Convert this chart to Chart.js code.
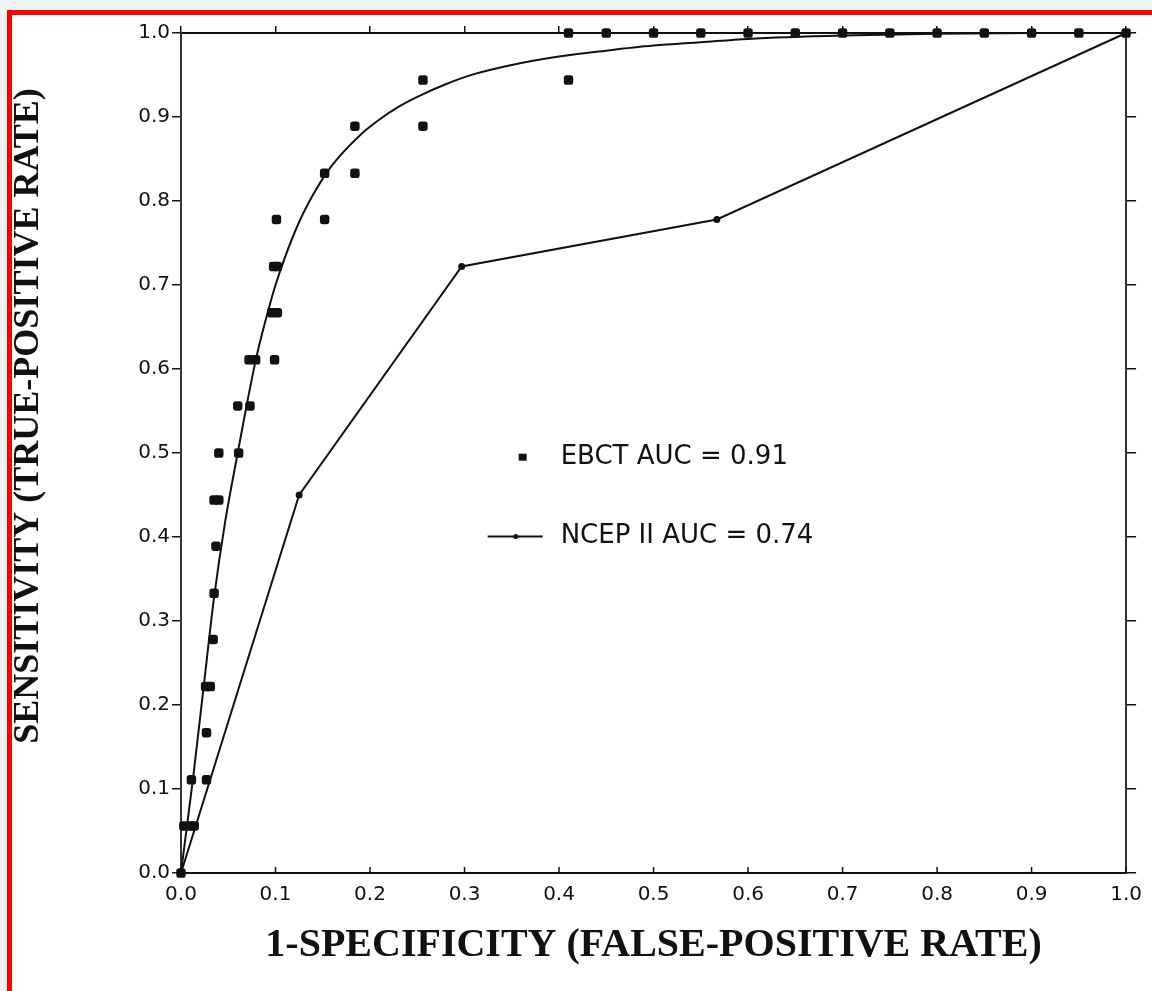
<!DOCTYPE html>
<html>
<head>
<meta charset="utf-8">
<script src="https://cdn.jsdelivr.net/npm/chart.js@4.4.1/dist/chart.umd.min.js"></script>
<style>
  html, body { margin: 0; padding: 0; background: #eef3f6; overflow: hidden; width: 1152px; height: 991px; }
  #frame { position: absolute; left: 7px; top: 10px; right: 0; bottom: 0;
           border-left: 5px solid #ff0000; border-top: 5px solid #ff0000; background: #fff; }
  #wrap { position: absolute; left: 0; top: 0; width: 1152px; height: 991px; }
</style>
</head>
<body>
<div id="frame"></div>
<div id="wrap"><canvas id="roc" width="1152" height="991"></canvas></div>
<script>
// EBCT observed points (1-specificity, sensitivity)
const ebctX = [0, 0.003, 0.010, 0.014, 0.011, 0.027, 0.027, 0.026, 0.031, 0.034, 0.035, 0.037,
               0.035, 0.040, 0.040, 0.061, 0.060, 0.073, 0.072, 0.079, 0.099, 0.096, 0.102,
               0.098, 0.102, 0.101, 0.152, 0.152, 0.184, 0.184, 0.256, 0.256, 0.410, 0.410,
               0.45, 0.50, 0.55, 0.60, 0.65, 0.70, 0.75, 0.80, 0.85, 0.90, 0.95, 1.0];
const ebctY = [0, 0.056, 0.056, 0.056, 0.111, 0.111, 0.167, 0.222, 0.222, 0.278, 0.333, 0.389,
               0.444, 0.444, 0.5, 0.5, 0.556, 0.556, 0.611, 0.611, 0.611, 0.667, 0.667,
               0.722, 0.722, 0.778, 0.778, 0.833, 0.833, 0.889, 0.889, 0.944, 0.944, 1.0,
               1.0, 1.0, 1.0, 1.0, 1.0, 1.0, 1.0, 1.0, 1.0, 1.0, 1.0, 1.0];

// fitted EBCT curve
const fitX = [0, 0.004, 0.013, 0.024, 0.035, 0.047, 0.060, 0.070, 0.080, 0.090, 0.100, 0.110,
              0.125, 0.140, 0.155, 0.170, 0.190, 0.210, 0.230, 0.250, 0.280, 0.310, 0.350,
              0.400, 0.450, 0.500, 0.550, 0.600, 0.700, 0.800, 0.900, 1.0];
const fitY = [0, 0.036, 0.115, 0.222, 0.328, 0.420, 0.500, 0.560, 0.615, 0.660, 0.700, 0.733,
              0.775, 0.808, 0.835, 0.856, 0.879, 0.897, 0.912, 0.924, 0.939, 0.951, 0.962,
              0.972, 0.979, 0.985, 0.989, 0.993, 0.997, 0.999, 1.0, 1.0];

// NCEP II
const ncepX = [0, 0.125, 0.297, 0.567, 1.0];
const ncepY = [0, 0.45, 0.722, 0.778, 1.0];

const legendLabels = ["EBCT AUC = 0.91", "NCEP II AUC = 0.74"];
const xTitle = "1-SPECIFICITY (FALSE-POSITIVE RATE)";
const yTitle = "SENSITIVITY (TRUE-POSITIVE RATE)";

const toPoints = (xs, ys) => xs.map((x, i) => ({ x: x, y: ys[i] }));
const ink = "#111";
const tickFont = { family: "DejaVu Sans", size: 20 };

// legend in the middle of the plot, rotated y title, small inward ticks on the bottom axis
const extras = {
    id: "extras",
    afterDatasetsDraw(chart) {
        const { ctx, scales: { x, y } } = chart;
        ctx.save();
        ctx.fillStyle = ink;
        ctx.strokeStyle = ink;

        ctx.lineWidth = 1.5;
        x.ticks.forEach((t) => {
            const px = x.getPixelForValue(t.value);
            ctx.beginPath();
            ctx.moveTo(px, y.bottom);
            ctx.lineTo(px, y.bottom - 6);
            ctx.stroke();
        });

        ctx.font = "26px 'DejaVu Sans'";
        ctx.textBaseline = "middle";
        ctx.textAlign = "left";

        const y1 = y.getPixelForValue(0.495);
        ctx.fillRect(x.getPixelForValue(0.3615) - 4, y1 - 3.5, 8, 7);
        ctx.fillText(legendLabels[0], x.getPixelForValue(0.4017), y1);

        const y2 = y.getPixelForValue(0.4006);
        ctx.lineWidth = 2;
        ctx.beginPath();
        ctx.moveTo(x.getPixelForValue(0.3245), y2);
        ctx.lineTo(x.getPixelForValue(0.3827), y2);
        ctx.stroke();
        ctx.beginPath();
        ctx.arc(x.getPixelForValue(0.3542), y2, 2.5, 0, Math.PI * 2);
        ctx.fill();
        ctx.fillText(legendLabels[1], x.getPixelForValue(0.4017), y2);

        ctx.font = "bold 36px 'Liberation Serif'";
        ctx.textAlign = "center";
        ctx.translate(29, 416);
        ctx.rotate(-Math.PI / 2);
        ctx.fillText(yTitle, 0, 0);
        ctx.restore();
    }
};

new Chart(document.getElementById("roc"), {
    type: "scatter",
    data: {
        datasets: [
            {
                label: "EBCT fit",
                data: toPoints(fitX, fitY),
                showLine: true,
                borderColor: ink,
                borderWidth: 2,
                pointRadius: 0,
                cubicInterpolationMode: "monotone",
                clip: false,
            },
            {
                label: "NCEP II",
                data: toPoints(ncepX, ncepY),
                showLine: true,
                borderColor: ink,
                borderWidth: 2,
                backgroundColor: ink,
                pointRadius: 2.5,
                clip: false,
            },
            {
                label: "EBCT",
                data: toPoints(ebctX, ebctY),
                pointStyle: "rectRounded",
                pointRadius: 5.5,
                backgroundColor: ink,
                borderColor: ink,
                borderWidth: 0,
                clip: false,
            },
        ],
    },
    options: {
        responsive: false,
        animation: false,
        layout: { padding: 0 },
        plugins: {
            legend: { display: false },
            tooltip: { enabled: false },
        },
        scales: {
            x: {
                type: "linear",
                position: "bottom",
                min: 0,
                max: 1,
                afterFit: (s) => { s.height = 118; },
                border: { color: ink, width: 2 },
                grid: { drawOnChartArea: false, drawTicks: false },
                ticks: {
                    stepSize: 0.1,
                    color: ink,
                    font: tickFont,
                    padding: 10,
                    maxRotation: 0,
                    callback: (v) => v.toFixed(1),
                },
                title: {
                    display: true,
                    text: xTitle,
                    color: ink,
                    font: { family: "Liberation Serif", size: 40, weight: "bold" },
                    padding: { top: 0, bottom: 21 },
                },
            },
            x2: {
                type: "linear",
                position: "top",
                min: 0,
                max: 1,
                afterFit: (s) => { s.height = 33; },
                border: { color: ink, width: 2 },
                grid: { drawOnChartArea: false, tickLength: 7, color: ink, lineWidth: 1.5 },
                ticks: { stepSize: 0.1, display: false },
            },
            y: {
                type: "linear",
                position: "left",
                min: 0,
                max: 1,
                afterFit: (s) => { s.width = 181; },
                border: { color: "#333", width: 2 },
                grid: { drawOnChartArea: false, tickLength: 9, color: ink, lineWidth: 1.5 },
                ticks: {
                    stepSize: 0.1,
                    color: ink,
                    font: tickFont,
                    padding: 2,
                    callback: (v) => v.toFixed(1),
                },
            },
            y2: {
                type: "linear",
                position: "right",
                min: 0,
                max: 1,
                afterFit: (s) => { s.width = 25; },
                border: { color: "#333", width: 2 },
                grid: { drawOnChartArea: false, tickLength: 10, color: ink, lineWidth: 1.5 },
                ticks: { stepSize: 0.1, display: false },
            },
        },
    },
    plugins: [extras],
});
</script>
</body>
</html>
